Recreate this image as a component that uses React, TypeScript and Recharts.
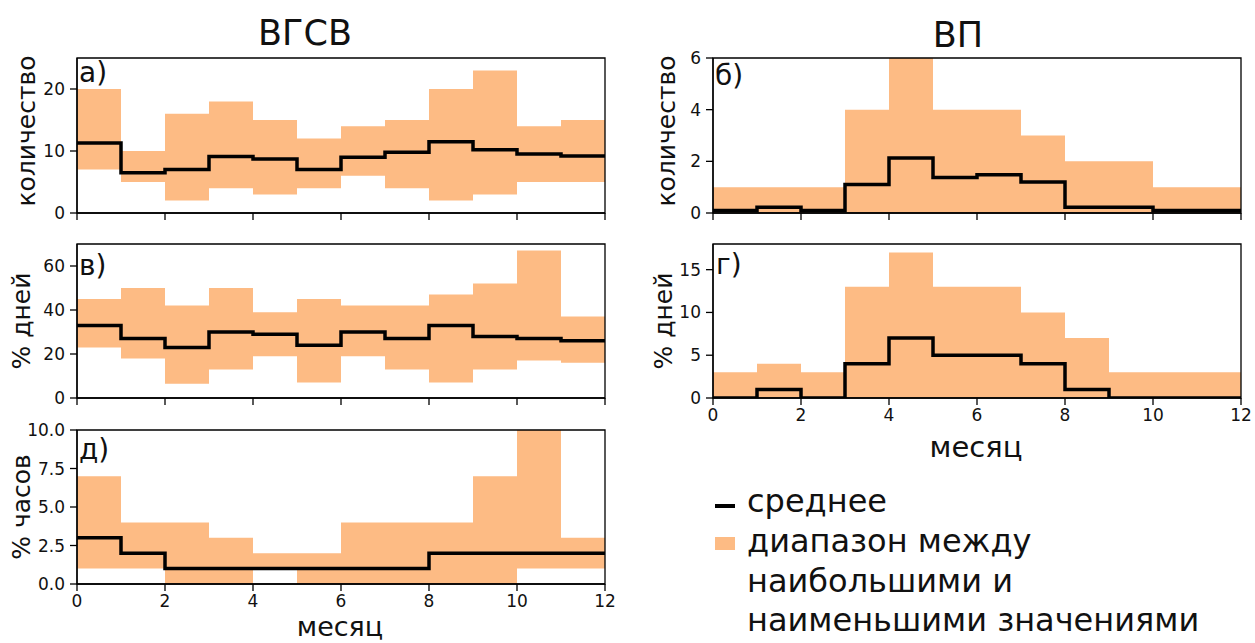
import { Area, ComposedChart, Line, ReferenceArea, XAxis, YAxis } from "recharts";

// month bins 0..11, the edge at 12 closes the last step
const binEdges = [0, 1, 2, 3, 4, 5, 6, 7, 8, 9, 10, 11, 12];
const monthTicks = [0, 2, 4, 6, 8, 10, 12];

// ВГСВ: количество
const aMean = [11.3, 6.5, 7.0, 9.1, 8.7, 7.0, 9.0, 9.8, 11.5, 10.2, 9.5, 9.2];
const aMin = [7, 5, 2, 4, 3, 4, 6, 4, 2, 3, 5, 5];
const aMax = [20, 10, 16, 18, 15, 12, 14, 15, 20, 23, 14, 15];

// ВГСВ: % дней
const vMean = [33, 27, 23, 30, 29, 24, 30, 27, 33, 28, 27, 26];
const vMin = [23, 18, 6.5, 13, 19, 7, 19, 13, 7, 13, 17, 16];
const vMax = [45, 50, 42, 50, 39, 45, 42, 42, 47, 52, 67, 37];

// ВГСВ: % часов
const dMean = [3, 2, 1, 1, 1, 1, 1, 1, 2, 2, 2, 2];
const dMin = [1, 1, 0, 0, 1, 0, 0, 0, 0, 0, 1, 1];
const dMax = [7, 4, 4, 3, 2, 2, 4, 4, 4, 7, 10, 3];

// ВП: количество
const bMean = [0.1, 0.22, 0.1, 1.1, 2.13, 1.37, 1.48, 1.2, 0.22, 0.22, 0.1, 0.1];
const bMin = [0, 0, 0, 0, 0, 0, 0, 0, 0, 0, 0, 0];
const bMax = [1, 1, 1, 4, 6, 4, 4, 3, 2, 2, 1, 1];

// ВП: % дней
const gMean = [0, 1, 0, 4, 7, 5, 5, 4, 1, 0, 0, 0];
const gMin = [0, 0, 0, 0, 0, 0, 0, 0, 0, 0, 0, 0];
const gMax = [3, 4, 3, 13, 17, 13, 13, 10, 7, 3, 3, 3];

const ORANGE = "#FDBB84";
const FONT = "'DejaVu Sans', sans-serif";
const PLOT_W = 528;

// step data: point i holds bin i, last edge repeats the last bin
const toSteps = (mean: number[], lo: number[], hi: number[]) =>
  binEdges.map((x) => {
    const i = Math.min(x, mean.length - 1);
    return { x, mean: mean[i], band: [lo[i], hi[i]] };
  });

interface PanelProps {
  left: number;
  top: number;
  height: number;
  mean: number[];
  lo: number[];
  hi: number[];
  yMax: number;
  yTicks: number[];
  fmt?: (v: number) => string;
  showX?: boolean;
}

const YW = 70;
const MT = 12;
const MR = 12;

const Panel = ({ left, top, height, mean, lo, hi, yMax, yTicks, fmt, showX }: PanelProps) => {
  const xh = showX ? 32 : 12;
  const tickStyle = { fill: "#111", fontSize: 17, fontFamily: FONT };
  return (
    <div style={{ position: "absolute", left: left - YW, top: top - MT }}>
      <ComposedChart
        width={YW + PLOT_W + MR}
        height={MT + height + xh}
        data={toSteps(mean, lo, hi)}
        margin={{ top: MT, right: MR, bottom: 0, left: 0 }}
      >
        <XAxis
          type="number"
          dataKey="x"
          domain={[0, 12]}
          ticks={monthTicks}
          height={xh}
          tickSize={7}
          tickMargin={4}
          stroke="#000"
          strokeWidth={1.3}
          tick={tickStyle}
          tickFormatter={showX ? (v) => String(v) : () => ""}
        />
        <YAxis
          type="number"
          domain={[0, yMax]}
          ticks={yTicks}
          width={YW}
          tickSize={7}
          tickMargin={5}
          stroke="#000"
          strokeWidth={1.3}
          tick={tickStyle}
          tickFormatter={fmt ?? ((v) => String(v))}
          allowDataOverflow
        />
        <Area
          dataKey="band"
          type="stepAfter"
          fill={ORANGE}
          fillOpacity={1}
          stroke="none"
          activeDot={false}
          isAnimationActive={false}
        />
        <Line
          dataKey="mean"
          type="stepAfter"
          stroke="#000"
          strokeWidth={3.5}
          dot={false}
          activeDot={false}
          isAnimationActive={false}
        />
        <ReferenceArea x1={0} x2={12} y1={0} y2={yMax} fill="none" stroke="#000" strokeWidth={1.3} />
      </ComposedChart>
    </div>
  );
};

// text placed by its baseline (tight line box)
const Txt = ({ x, base, size, center, children }: { x: number; base: number; size: number; center?: boolean; children: string }) => (
  <div
    style={{
      position: "absolute",
      left: x,
      top: base - 0.746 * size,
      fontSize: size,
      lineHeight: `${0.8 * size}px`,
      fontFamily: FONT,
      color: "#111",
      whiteSpace: "nowrap",
      transform: center ? "translateX(-50%)" : undefined,
    }}
  >
    {children}
  </div>
);

const YLabel = ({ x, y, children }: { x: number; y: number; children: string }) => (
  <div
    style={{
      position: "absolute",
      left: x,
      top: y,
      fontSize: 25,
      lineHeight: "25px",
      fontFamily: FONT,
      color: "#111",
      whiteSpace: "nowrap",
      transform: "translate(-50%, -50%) rotate(-90deg)",
    }}
  >
    {children}
  </div>
);

const fmt1 = (v: number) => v.toFixed(1);

export default function App() {
  return (
    <div style={{ position: "absolute", left: 0, top: 0, width: 1255, height: 643, background: "#fff", overflow: "hidden" }}>
      <Txt x={305} base={45} size={35} center>ВГСВ</Txt>
      <Txt x={958} base={47} size={35} center>ВП</Txt>

      <Panel left={77} top={58} height={155} mean={aMean} lo={aMin} hi={aMax} yMax={25} yTicks={[0, 10, 20]} />
      <Panel left={77} top={244} height={154} mean={vMean} lo={vMin} hi={vMax} yMax={70} yTicks={[0, 20, 40, 60]} />
      <Panel left={77} top={430} height={154} mean={dMean} lo={dMin} hi={dMax} yMax={10} yTicks={[0, 2.5, 5, 7.5, 10]} fmt={fmt1} showX />
      <Panel left={713} top={58} height={155} mean={bMean} lo={bMin} hi={bMax} yMax={6} yTicks={[0, 2, 4, 6]} />
      <Panel left={713} top={244} height={154} mean={gMean} lo={gMin} hi={gMax} yMax={18} yTicks={[0, 5, 10, 15]} showX />

      <Txt x={79} base={83} size={28}>а)</Txt>
      <Txt x={79} base={276} size={28}>в)</Txt>
      <Txt x={79} base={460} size={28}>д)</Txt>
      <Txt x={715} base={86} size={28}>б)</Txt>
      <Txt x={716} base={275} size={28}>г)</Txt>

      <YLabel x={26} y={131}>количество</YLabel>
      <YLabel x={21} y={321}>% дней</YLabel>
      <YLabel x={21} y={507}>% часов</YLabel>
      <YLabel x={666} y={131}>количество</YLabel>
      <YLabel x={663} y={321}>% дней</YLabel>

      <Txt x={340} base={636} size={27} center>месяц</Txt>
      <Txt x={976} base={458} size={29} center>месяц</Txt>

      <div style={{ position: "absolute", left: 715, top: 504, width: 20, height: 4, background: "#000" }} />
      <div style={{ position: "absolute", left: 715, top: 537, width: 20, height: 13, background: ORANGE }} />
      <Txt x={747} base={513} size={32}>среднее</Txt>
      <Txt x={747} base={553} size={32}>диапазон между</Txt>
      <Txt x={747} base={593} size={32}>наибольшими и</Txt>
      <Txt x={747} base={632} size={32}>наименьшими значениями</Txt>
    </div>
  );
}
